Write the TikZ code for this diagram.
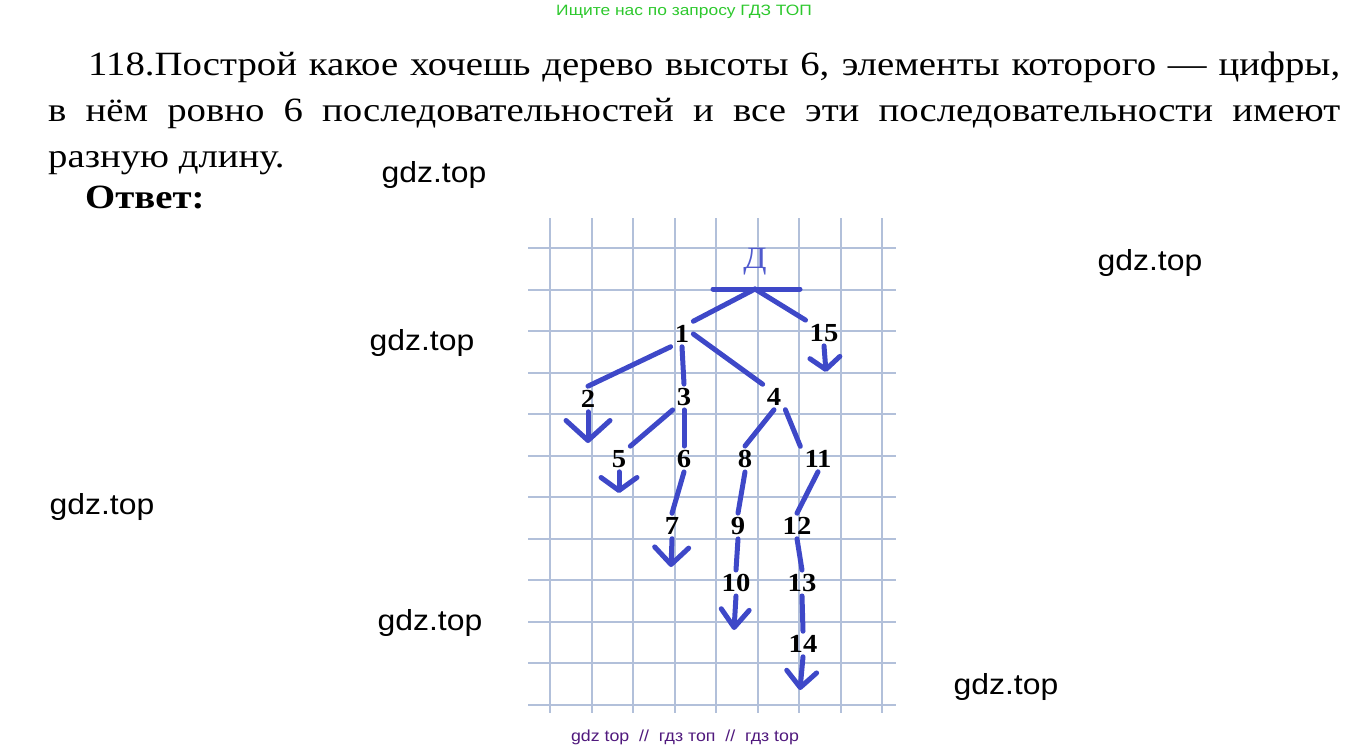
\documentclass[tikz,border=0pt]{standalone}
\usepackage{fontspec}
\setmainfont{Liberation Serif}
\newfontfamily\taskFont[FakeStretch=1.14]{Liberation Serif}
\newfontfamily\numFont[FakeStretch=1.1]{Liberation Serif}
\newfontfamily\markFont[FakeStretch=1.1]{Liberation Sans}
\newfontfamily\headFont[FakeStretch=1.16]{Liberation Sans}
\newfontfamily\footFont[FakeStretch=1.11]{Liberation Sans}
\usetikzlibrary{arrows.meta}

\definecolor{penBlue}{RGB}{62,72,200}
\definecolor{rootBlue}{RGB}{80,90,205}
\definecolor{gridBlue}{RGB}{178,192,218}
\definecolor{topGreen}{RGB}{45,200,45}
\definecolor{footPurple}{RGB}{80,25,125}

\begin{document}
\begin{tikzpicture}[x=1pt,y=-1pt,%%
  gridStyle/.style={draw=gridBlue,line width=2pt},%%
  edgeStyle/.style={draw=penBlue,line width=5pt,line cap=round},%%
  leafStyle/.style 2 args={edgeStyle,-{Straight Barb[length=#1,width=#2,round]}},%%
  numStyle/.style={inner sep=4pt,font=\numFont\bfseries\fontsize{26}{26}\selectfont},%%
  rootStyle/.style={inner sep=2pt,text=rootBlue,font=\numFont\fontsize{31}{31}\selectfont},%%
  taskStyle/.style={anchor=base west,inner sep=0pt,font=\taskFont\fontsize{34}{40}\selectfont},%%
  markStyle/.style={inner sep=0pt,font=\markFont\fontsize{29}{29}\selectfont}%%
]
%%
\useasboundingbox (0,0) rectangle (1370,752);
%%
%% Grid of the squared paper.
\pgfmathsetmacro{\cell}{41.5}   %% side of one square
\pgfmathsetmacro{\gxlow}{550}   %% first vertical line
\pgfmathsetmacro{\gylow}{248}   %% first horizontal line
\pgfmathsetmacro{\gleft}{528}
\pgfmathsetmacro{\gright}{896}
\pgfmathsetmacro{\gtop}{218}
\pgfmathsetmacro{\gbottom}{713}
%%
%% Header and footer lines.
\node[text=topGreen,font=\headFont\fontsize{15}{15}\selectfont] (header) at (684,12) {Ищите нас по запросу ГДЗ ТОП};
\node[text=footPurple,font=\footFont\fontsize{16}{16}\selectfont] (footer) at (685,737) {gdz top \ // \ гдз топ \ // \ гдз top};
%%
%% The task.
\node[taskStyle] (line1) at (88,75) {\makebox[1252pt][s]{118.Построй какое хочешь дерево высоты 6, элементы которого — цифры,}};
\node[taskStyle] (line2) at (48,121) {\makebox[1292pt][s]{в нём ровно 6 последовательностей и все эти последовательности имеют}};
\node[taskStyle] (line3) at (48,167) {разную длину.};
\node[taskStyle,font=\taskFont\bfseries\fontsize{34}{40}\selectfont] (answer) at (85,208) {Ответ:};
%%
%% Watermarks.
\node[markStyle] (mark1) at (434,175) {gdz.top};
\node[markStyle] (mark2) at (1150,263) {gdz.top};
\node[markStyle] (mark3) at (422,343) {gdz.top};
\node[markStyle] (mark4) at (102,507) {gdz.top};
\node[markStyle] (mark5) at (430,623) {gdz.top};
\node[markStyle] (mark6) at (1006,687) {gdz.top};
%%
%% Draw the grid.
\foreach \gx in {0,...,8}
  \draw[gridStyle] (\gxlow+\gx*\cell,\gtop) -- (\gxlow+\gx*\cell,\gbottom);
\foreach \gy in {0,...,11}
  \draw[gridStyle] (\gleft,\gylow+\gy*\cell) -- (\gright,\gylow+\gy*\cell);
%%
%% The root and its bar.
\node[rootStyle] (root) at (755,262) {Д};
\coordinate (barLeft) at (713,289);
\coordinate (barMid) at (755,289);
\coordinate (barRight) at (800,289);
%%
%% The numbers of the tree.
\node[numStyle] (n1) at (682,334) {1};
\node[numStyle] (n15) at (824,333) {15};
\node[numStyle] (n2) at (588,399) {2};
\node[numStyle] (n3) at (684,397) {3};
\node[numStyle] (n4) at (774,397) {4};
\node[numStyle] (n5) at (619,459) {5};
\node[numStyle] (n6) at (684,459) {6};
\node[numStyle] (n8) at (745,459) {8};
\node[numStyle] (n11) at (818,459) {11};
\node[numStyle] (n7) at (672,526) {7};
\node[numStyle] (n9) at (738,526) {9};
\node[numStyle] (n12) at (797,526) {12};
\node[numStyle] (n10) at (736,583) {10};
\node[numStyle] (n13) at (802,583) {13};
\node[numStyle] (n14) at (803,644) {14};
%%
%% Tips of the end arrows.
\coordinate (tip2) at (588,443);
\coordinate (tip5) at (619,493);
\coordinate (tip7) at (671,567);
\coordinate (tip10) at (734,630);
\coordinate (tip14) at (800,690);
\coordinate (tip15) at (826,372);
%%
%% Draw the edges.
\draw[edgeStyle] (barLeft) -- (barRight);
\draw[edgeStyle] (barMid) -- (n1.north east);
\draw[edgeStyle] (barMid) -- (n15.north west);
\draw[edgeStyle] (n1.south west) -- (n2.north);
\draw[edgeStyle] (n1.south) -- (n3.north);
\draw[edgeStyle] (n1.east) -- (n4.north west);
\draw[edgeStyle] (n3.south west) -- (n5.north east);
\draw[edgeStyle] (n3.south) -- (n6.north);
\draw[edgeStyle] (n4.south) -- (n8.north);
\draw[edgeStyle] (n4.south east) -- (n11.north west);
\draw[edgeStyle] (n6.south) -- (n7.north);
\draw[edgeStyle] (n8.south) -- (n9.north);
\draw[edgeStyle] (n11.south) -- (n12.north);
\draw[edgeStyle] (n9.south) -- (n10.north);
\draw[edgeStyle] (n12.south) -- (n13.north);
\draw[edgeStyle] (n13.south) -- (n14.north);
%%
%% Draw the end arrows.
\draw[leafStyle={20pt}{44pt}] (n2.south) -- (tip2);
\draw[leafStyle={13pt}{36pt}] (n5.south) -- (tip5);
\draw[leafStyle={17pt}{34pt}] (n7.south) -- (tip7);
\draw[leafStyle={18pt}{28pt}] (n10.south) -- (tip10);
\draw[leafStyle={16pt}{30pt}] (n14.south) -- (tip14);
\draw[leafStyle={12pt}{30pt}] (n15.south) -- (tip15);
\end{tikzpicture}
\end{document}
